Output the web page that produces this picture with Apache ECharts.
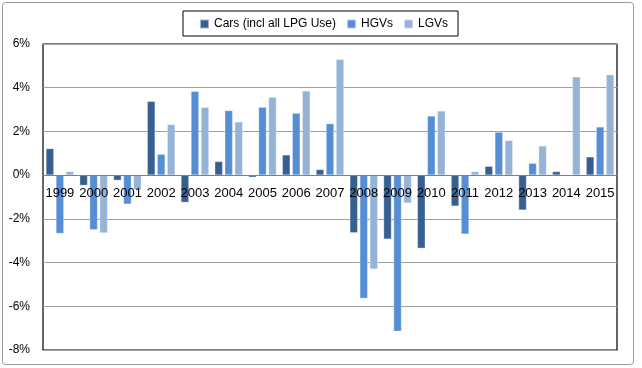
<!DOCTYPE html>
<html>
<head>
<meta charset="utf-8">
<script src="https://cdn.jsdelivr.net/npm/echarts@6/dist/echarts.min.js"></script>
<style>
html,body{margin:0;padding:0;background:#fff;}
#c{width:642px;height:368px;}
</style>
</head>
<body>
<div id="c"></div>
<script>
var years = ['1999','2000','2001','2002','2003','2004','2005','2006','2007','2008','2009','2010','2011','2012','2013','2014','2015'];
var cars = [1.22,-0.47,-0.24,3.38,-1.25,0.63,-0.10,0.93,0.26,-2.64,-2.93,-3.35,-1.42,0.41,-1.60,0.17,0.84];
var hgvs = [-2.67,-2.50,-1.33,0.96,3.84,2.96,3.11,2.84,2.36,-5.64,-7.15,2.71,-2.70,1.97,0.55,-0.05,2.21];
var lgvs = [0.17,-2.65,-0.67,2.32,3.11,2.44,3.57,3.86,5.30,-4.30,-1.28,2.94,0.17,1.59,1.34,4.50,4.60];
var seriesNames = ['Cars (incl all LPG Use)','HGVs','LGVs'];
var yTicks = {min:-8, max:6, interval:2};

var chart = echarts.init(document.getElementById('c'), null, {renderer:'canvas'});
var font = 'Liberation Sans';
var gridTop = 44, gridBottom = 18, H = 368;
var plotH = H - gridTop - gridBottom;
var zeroFromBottom = plotH * (0 - yTicks.min) / (yTicks.max - yTicks.min);
function bar(name, data, color){
  return {name:name, type:'bar', data:data, barWidth:8, barGap:'25%',
    itemStyle:{color:color, borderColor:'rgba(255,255,255,0.55)', borderWidth:0.6}};
}
chart.setOption({
  animation:false,
  backgroundColor:'#fff',
  graphic:[{type:'rect', shape:{x:2.5,y:2.5,width:631,height:362,r:3}, style:{fill:null, stroke:'#9a9a9a', lineWidth:1}, z:-10}],
  legend:{
    top:11, left:183,
    padding:[7,10,6,16],
    borderColor:'#000', borderWidth:1,
    icon:'rect', itemWidth:9, itemHeight:9, itemGap:10,
    textStyle:{fontFamily:font, fontSize:12, color:'#000'},
    data:seriesNames
  },
  grid:{left:43, right:25, top:gridTop, bottom:gridBottom, show:true, borderColor:'#000', borderWidth:1.2, containLabel:false, outerBoundsMode:'none'},
  xAxis:{
    type:'category', data:years, z:10, position:'bottom',
    offset:-zeroFromBottom,
    axisLine:{onZero:false, lineStyle:{color:'#7f7f7f', width:1}},
    axisTick:{show:false},
    axisLabel:{fontFamily:font, fontSize:13, color:'#000', margin:12, interval:0}
  },
  yAxis:{
    type:'value', min:yTicks.min, max:yTicks.max, interval:yTicks.interval,
    axisLine:{show:false}, axisTick:{show:false},
    splitLine:{lineStyle:{color:'#a0a0a0', width:1}},
    axisLabel:{fontFamily:font, fontSize:12, color:'#000', margin:13, formatter:'{value}%'}
  },
  series:[
    bar(seriesNames[0], cars, '#376092'),
    bar(seriesNames[1], hgvs, '#558ed5'),
    bar(seriesNames[2], lgvs, '#95b3d7')
  ]
});
</script>
</body>
</html>
